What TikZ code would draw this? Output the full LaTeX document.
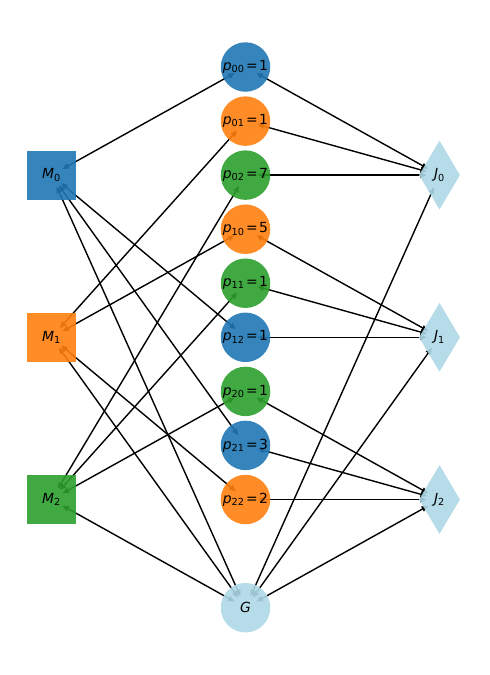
\documentclass[tikz,border=0pt]{standalone}
\usepackage{fontspec}
\setmainfont{DejaVu Sans}
\usetikzlibrary{shapes.geometric,arrows.meta}
\pgfdeclarelayer{bg}
\pgfsetlayers{bg,main}
\definecolor{tabblue}{HTML}{1F77B4}
\definecolor{taborange}{HTML}{FF7F0E}
\definecolor{tabgreen}{HTML}{2CA02C}
\definecolor{lblue}{HTML}{ADD8E6}
\newcommand{\pl}[2]{\textit{p}\textsubscript{#1}\kern1.5pt=\kern1.5pt#2}
\begin{document}
\begin{tikzpicture}[x=1pt,y=-1pt,
  lab/.style={font=\fontsize{13.9}{16}\selectfont, text=black, text opacity=1},
  mach/.style={lab, rectangle, minimum size=49pt, inner sep=0pt, fill opacity=0.9},
  op/.style={lab, circle, minimum size=49.5pt, inner sep=0pt, fill opacity=0.9},
  job/.style={lab, diamond, minimum width=41pt, minimum height=69pt, inner sep=0pt, fill=lblue, fill opacity=0.9},
  edge/.style={black, line width=1.4pt, {Triangle[length=6.5pt,width=5.5pt]}-{Triangle[length=6.5pt,width=5.5pt]}, shorten <=12.5pt, shorten >=12.5pt},
  edgej/.style={edge, shorten >=13pt},
]
\useasboundingbox (0,0) rectangle (490,675);
% machines
\node[mach, fill=tabblue]   (M0) at (51.5,175.1) {\textit{M}\textsubscript{0}};
\node[mach, fill=taborange] (M1) at (51.5,337.3) {\textit{M}\textsubscript{1}};
\node[mach, fill=tabgreen]  (M2) at (51.5,499.5) {\textit{M}\textsubscript{2}};
% operations
\node[op, fill=tabblue]   (p00) at (245.5,67.0)  {\pl{00}{1}};
\node[op, fill=taborange] (p01) at (245.5,121.1) {\pl{01}{1}};
\node[op, fill=tabgreen]  (p02) at (245.5,175.1) {\pl{02}{7}};
\node[op, fill=taborange] (p10) at (245.5,229.2) {\pl{10}{5}};
\node[op, fill=tabgreen]  (p11) at (245.5,283.2) {\pl{11}{1}};
\node[op, fill=tabblue]   (p12) at (245.5,337.3) {\pl{12}{1}};
\node[op, fill=tabgreen]  (p20) at (245.5,391.4) {\pl{20}{1}};
\node[op, fill=tabblue]   (p21) at (245.5,445.4) {\pl{21}{3}};
\node[op, fill=taborange] (p22) at (245.5,499.5) {\pl{22}{2}};
% jobs
\node[job] (J0) at (439.5,175.1) {\textit{J}\textsubscript{0}};
\node[job] (J1) at (439.5,337.3) {\textit{J}\textsubscript{1}};
\node[job] (J2) at (439.5,499.5) {\textit{J}\textsubscript{2}};
% sink
\node[op, fill=lblue] (G) at (245.5,607.7) {\textit{G}};
\begin{pgfonlayer}{bg}
  % machine - operation
  \draw[edge] (M0.center) -- (p00.center);
  \draw[edge] (M1.center) -- (p01.center);
  \draw[edge] (M2.center) -- (p02.center);
  \draw[edge] (M1.center) -- (p10.center);
  \draw[edge] (M2.center) -- (p11.center);
  \draw[edge] (M0.center) -- (p12.center);
  \draw[edge] (M2.center) -- (p20.center);
  \draw[edge] (M0.center) -- (p21.center);
  \draw[edge] (M1.center) -- (p22.center);
  % operation - job
  \draw[edgej] (p00.center) -- (J0.center);
  \draw[edgej] (p01.center) -- (J0.center);
  \draw[edgej] (p02.center) -- (J0.center);
  \draw[edgej] (p10.center) -- (J1.center);
  \draw[edgej] (p11.center) -- (J1.center);
  \draw[edgej] (p12.center) -- (J1.center);
  \draw[edgej] (p20.center) -- (J2.center);
  \draw[edgej] (p21.center) -- (J2.center);
  \draw[edgej] (p22.center) -- (J2.center);
  % sink
  \draw[edge] (M0.center) -- (G.center);
  \draw[edge] (M1.center) -- (G.center);
  \draw[edge] (M2.center) -- (G.center);
  \draw[edgej] (G.center) -- (J0.center);
  \draw[edgej] (G.center) -- (J1.center);
  \draw[edgej] (G.center) -- (J2.center);
\end{pgfonlayer}
\end{tikzpicture}
\end{document}
